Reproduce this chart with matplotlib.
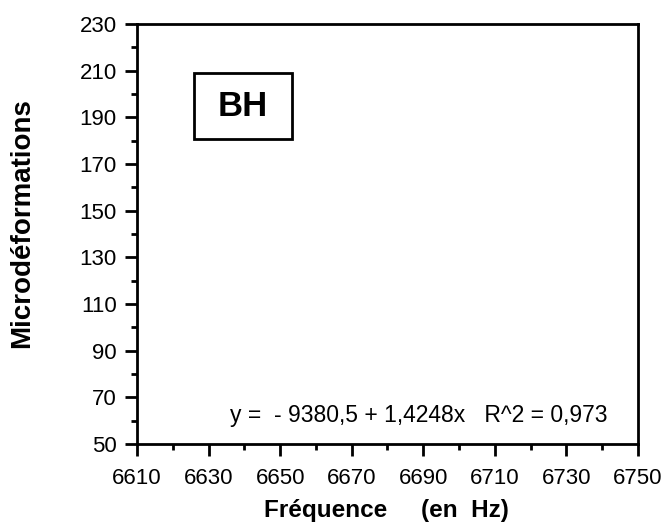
import matplotlib
matplotlib.use("Agg")
import matplotlib.pyplot as plt
from matplotlib.ticker import MultipleLocator
from matplotlib.patches import Rectangle

plt.rcParams['font.family'] = ['Liberation Sans', 'DejaVu Sans']

x_ticks = [6610, 6630, 6650, 6670, 6690, 6710, 6730, 6750]
y_ticks = [50, 70, 90, 110, 130, 150, 170, 190, 210, 230]
intercept = -9380.5
slope = 1.4248
r2 = 0.973
panel_label = "BH"

fig = plt.figure(figsize=(6.68, 5.28), dpi=100)
ax = fig.add_axes([137/668, 1 - 444/528, (638-137)/668, (444-24)/528])
ax.set_xlim(x_ticks[0], x_ticks[-1])
ax.set_ylim(y_ticks[0], y_ticks[-1])
ax.set_xticks(x_ticks)
ax.set_yticks(y_ticks)
ax.xaxis.set_minor_locator(MultipleLocator(10))
ax.yaxis.set_minor_locator(MultipleLocator(10))
ax.tick_params(which='major', direction='out', length=8.5, width=2, labelsize=16)
ax.tick_params(which='minor', direction='out', length=4.5, width=2)
ax.tick_params(axis='x', which='major', pad=9)
ax.tick_params(axis='y', which='major', pad=6)
for s in ax.spines.values():
    s.set_linewidth(2)

fig.text(386/668, 1 - 511/528, "Fréquence     (en  Hz)", fontsize=17.5,
         fontweight='bold', ha='center', va='center')
fig.text(22/668, 1 - 223/528, "Microdéformations", fontsize=20,
         fontweight='bold', ha='center', va='center', rotation=90)

def fr(v, nd):
    return f"{v:.{nd}f}".replace('.', ',')

eq = f"y =  - {fr(abs(intercept),1)} + {fr(slope,4)}x   R^2 = {fr(r2,3)}"
ax.text((607-137)/501, (444-422)/420, eq, transform=ax.transAxes, fontsize=16.5,
        ha='right', va='baseline')

ax.add_patch(Rectangle(((194-137)/501, 1 - (139-24)/420), 98/501, 66/420,
                       transform=ax.transAxes, fill=False, ec='black', lw=2))
ax.text((243-137)/501, 1 - (106-24)/420, panel_label, transform=ax.transAxes,
        fontsize=25, fontweight='bold', ha='center', va='center')

fig.savefig("out.png", dpi=100)
